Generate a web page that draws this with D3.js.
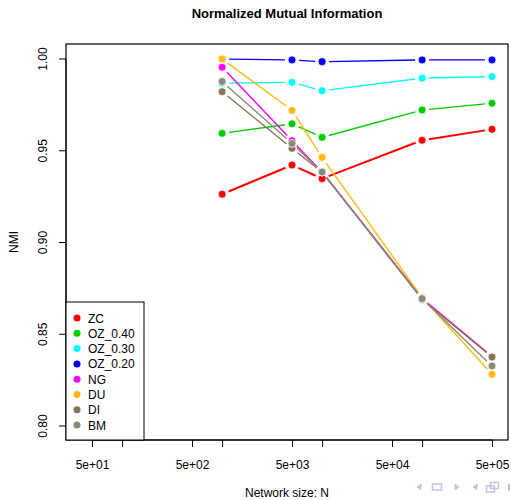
<!DOCTYPE html>
<html>
<head>
<meta charset="utf-8">
<script src="https://cdn.jsdelivr.net/npm/d3@7"></script>
<style>
  body { margin: 0; background: #fff; }
  text { font-family: "Liberation Sans", Arial, sans-serif; }
</style>
</head>
<body>
<div id="chart"></div>
<script>
// network sizes (x values)
const sizes = [1000, 5000, 10000, 100000, 500000];

// series names as in the legend
const names = ["ZC", "OZ_0.40", "OZ_0.30", "OZ_0.20", "NG", "DU", "DI", "BM"];

// NMI values per series
const zc   = [0.9263, 0.9422, 0.9348, 0.9557, 0.9617];
const oz40 = [0.9595, 0.9647, 0.9573, 0.9722, 0.9759];
const oz30 = [0.9868, 0.9873, 0.9827, 0.9896, 0.9904];
const oz20 = [1.0000, 0.9995, 0.9985, 0.9995, 0.9995];
const ng   = [0.9955, 0.9555, 0.9384, 0.8696, 0.8378];
const du   = [1.0000, 0.9720, 0.9464, 0.8700, 0.8282];
const di   = [0.9822, 0.9513, 0.9384, 0.8690, 0.8376];
const bm   = [0.9877, 0.9540, 0.9384, 0.8694, 0.8327];

const colors = ["#FF0000", "#00CD00", "#00FFFF", "#0000FF", "#FF00FF", "#FFB90F", "#8B7355", "#8B8878"];

// tick marks of the log axis, labels only on the 5e+ ones
const xTicks = [50, 100, 500, 1000, 5000, 10000, 50000, 100000, 500000];
const xLabels = ["5e+01", "", "5e+02", "", "5e+03", "", "5e+04", "", "5e+05"];
const yTicks = [0.80, 0.85, 0.90, 0.95, 1.00];

const seriesValues = [zc, oz40, oz30, oz20, ng, du, di, bm];
const series = names.map((n, i) => ({
  name: n,
  color: colors[i],
  points: sizes.map((s, j) => ({ x: s, y: seriesValues[i][j] }))
}));

const W = 511, H = 500;
const box = { left: 66, right: 508, top: 44, bottom: 440 };

const svg = d3.select("#chart").append("svg")
  .attr("width", W).attr("height", H);

// log x scale: 100px per decade, 5e+01 at x=92
const x = d3.scaleLog()
  .domain([50 / Math.pow(10, 0.26), 500000 * Math.pow(10, 0.16)])
  .range([box.left, box.right]);

const y = d3.scaleLinear()
  .domain([0.80 - 14 / 1835, 1.00 + 15 / 1835])
  .range([box.bottom, box.top]);

// title
svg.append("text")
  .attr("x", 287).attr("y", 18)
  .attr("text-anchor", "middle")
  .style("font-weight", "bold").style("font-size", "13px")
  .text("Normalized Mutual Information");

// x axis
const xAxis = svg.append("g")
  .attr("transform", `translate(0,${box.bottom})`)
  .call(d3.axisBottom(x).tickValues(xTicks).tickFormat((d, i) => xLabels[i]).tickSize(7).tickPadding(13));
xAxis.select(".domain").attr("d", `M${x(50)},0H${x(500000)}`).attr("stroke", "#000");
xAxis.selectAll("text").style("font-size", "12px").style("font-family", "Liberation Sans, Arial, sans-serif");

// y axis
const yAxis = svg.append("g")
  .attr("transform", `translate(${box.left},0)`)
  .call(d3.axisLeft(y).tickValues(yTicks).tickFormat(d3.format(".2f")).tickSize(7));
yAxis.select(".domain").attr("d", `M0,${y(0.80)}V${y(1.00)}`);
yAxis.selectAll("text")
  .style("font-size", "12px").style("font-family", "Liberation Sans, Arial, sans-serif")
  .attr("text-anchor", "middle")
  .attr("x", 0).attr("dy", 0)
  .attr("transform", d => `translate(-19,${y(d)}) rotate(-90)`)
  .attr("y", 0);
yAxis.selectAll(".tick").attr("transform", "translate(0,0)");
yAxis.selectAll(".tick line").attr("y1", d => y(d)).attr("y2", d => y(d));

// plot box
svg.append("rect")
  .attr("x", box.left).attr("y", box.top)
  .attr("width", box.right - box.left).attr("height", box.bottom - box.top)
  .attr("fill", "none").attr("stroke", "#000").attr("stroke-width", 1.2);

// axis titles
svg.append("text")
  .attr("x", 287).attr("y", 497)
  .attr("text-anchor", "middle").style("font-size", "12px")
  .text("Network size: N");
svg.append("text")
  .attr("transform", `translate(18,242) rotate(-90)`)
  .attr("text-anchor", "middle").style("font-size", "12px")
  .text("NMI");

// lines with gaps around points (type "b")
const gap = 7;
const plot = svg.append("g");
series.forEach(s => {
  const segs = d3.pairs(s.points).map(([a, b]) => {
    const x1 = x(a.x), y1 = y(a.y), x2 = x(b.x), y2 = y(b.y);
    const len = Math.hypot(x2 - x1, y2 - y1);
    const ux = (x2 - x1) / len, uy = (y2 - y1) / len;
    return [x1 + ux * gap, y1 + uy * gap, x2 - ux * gap, y2 - uy * gap];
  });
  plot.append("g").selectAll("line")
    .data(segs).join("line")
    .attr("x1", d => d[0]).attr("y1", d => d[1])
    .attr("x2", d => d[2]).attr("y2", d => d[3])
    .attr("stroke", s.color)
    .attr("stroke-width", s.name === "ZC" ? 2 : 1.4);
  plot.append("g").selectAll("circle")
    .data(s.points).join("circle")
    .attr("cx", d => x(d.x)).attr("cy", d => y(d.y))
    .attr("r", 4).attr("fill", s.color)
    .attr("stroke", "#fff").attr("stroke-width", 0.8);
});

// legend
const legend = svg.append("g");
legend.append("rect")
  .attr("x", box.left).attr("y", 302)
  .attr("width", 78).attr("height", box.bottom - 302)
  .attr("fill", "#fff").attr("stroke", "#000").attr("stroke-width", 1);
const item = legend.selectAll("g.item").data(series).join("g")
  .attr("class", "item")
  .attr("transform", (d, i) => `translate(0,${318 + i * 15.3})`);
item.append("circle").attr("cx", 77).attr("cy", 0).attr("r", 3.5).attr("fill", d => d.color);
item.append("text").attr("x", 88).attr("y", 4.5).style("font-size", "12px").text(d => d.name);

// beamer navigation symbols, bottom right
const nav = svg.append("g").attr("fill", "#c4c4e8").attr("stroke", "#c4c4e8");
nav.append("path").attr("d", "M417,487 l4,-3 v6 z");
nav.append("rect").attr("x", 432.5).attr("y", 484).attr("width", 9).attr("height", 6).attr("fill", "none").attr("stroke-width", 1.5);
nav.append("path").attr("d", "M455,484 l4,3 l-4,3 z");
nav.append("path").attr("d", "M473,487 l4,-3 v6 z");
nav.append("rect").attr("x", 486.5).attr("y", 486).attr("width", 8).attr("height", 6).attr("fill", "#fff").attr("stroke-width", 1.5);
nav.append("rect").attr("x", 490.5).attr("y", 482.5).attr("width", 8).attr("height", 6).attr("fill", "none").attr("stroke-width", 1.5);
nav.append("rect").attr("x", 508).attr("y", 484).attr("width", 2).attr("height", 7).attr("stroke", "none");
</script>
</body>
</html>
